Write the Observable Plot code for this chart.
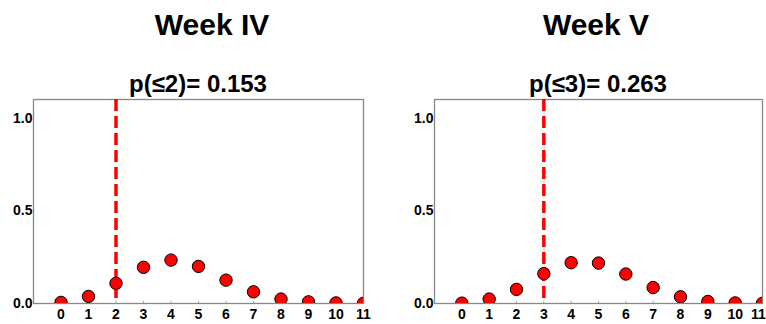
<!DOCTYPE html>
<html>
<head>
<meta charset="utf-8">
<script src="https://cdn.jsdelivr.net/npm/d3@7"></script>
<script src="https://cdn.jsdelivr.net/npm/@observablehq/plot@0.6"></script>
<style>
  html, body { margin: 0; padding: 0; background: #fff; }
  #wrap { position: relative; width: 766px; height: 324px; overflow: hidden; font-family: "Liberation Sans", Arial, sans-serif; }
  .panel { position: absolute; top: 0; overflow: visible; }
  .panel text { font-size: 14px; font-weight: bold; fill: #000; font-family: "Liberation Sans", Arial, sans-serif; }
  .title { position: absolute; font-weight: bold; line-height: 1; white-space: nowrap; transform: translateX(-50%); color: #000; }
  .t1 { font-size: 30px; top: 10px; }
  .t2 { font-size: 24px; top: 72px; }
</style>
</head>
<body>
<div id="wrap"></div>
<script>
// ---- data ----
const counts = [0, 1, 2, 3, 4, 5, 6, 7, 8, 9, 10, 11];
const weekIV = [0.006, 0.038, 0.109, 0.195, 0.234, 0.200, 0.126, 0.063, 0.024, 0.009, 0.003, 0.001];
const weekV  = [0.002, 0.024, 0.076, 0.161, 0.220, 0.218, 0.159, 0.086, 0.036, 0.011, 0.003, 0.001];
const titles = ["Week IV", "Week V"];
const subtitles = ["p(\u22642)= 0.153", "p(\u22643)= 0.263"];
const cutoffs = [2, 3];
const yTicks = [0, 0.5, 1.0];

const panels = [
  {values: weekIV, title: titles[0], sub: subtitles[0], cut: cutoffs[0], left: 0, ml: 33, mr: 20, tx: 212, sx: 198, lastDx: 0},
  {values: weekV, title: titles[1], sub: subtitles[1], cut: cutoffs[1], left: 383, ml: 51, mr: 4, tx: 596, sx: 598, lastDx: -4}
];

const wrap = document.getElementById("wrap");
const innerTicks = counts.slice(0, -1);
const lastTick = counts.slice(-1);

for (const p of panels) {
  const data = counts.map((c, i) => ({x: c, y: p.values[i]}));
  const chart = Plot.plot({
    width: 383,
    height: 324,
    marginTop: 99,
    marginBottom: 21,
    marginLeft: p.ml,
    marginRight: p.mr,
    style: {fontFamily: "'Liberation Sans', Arial, sans-serif", fontSize: "14px", fontWeight: "bold", color: "#000", background: "transparent"},
    x: {domain: [-1, 11], ticks: counts, tickFormat: d => String(d)},
    y: {domain: [0, 1.1], ticks: yTicks, tickFormat: d3.format(".1f")},
    marks: [
      Plot.axisX({ticks: innerTicks, tickSize: 0, tickPadding: 6, tickFormat: d => String(d), label: null, fontSize: 14, fontWeight: "bold", fill: "#000"}),
      Plot.axisX({ticks: lastTick, tickSize: 0, tickPadding: 6, dx: p.lastDx, tickFormat: d => String(d), label: null, fontSize: 14, fontWeight: "bold", fill: "#000"}),
      Plot.axisY({ticks: yTicks, tickSize: 0, tickPadding: 1, tickFormat: d3.format(".1f"), label: null, fontSize: 14, fontWeight: "bold", fill: "#000"}),
      Plot.ruleX(counts, {x: d => d, y1: 0, y2: 0.012, stroke: "#aaa", strokeWidth: 1}),
      Plot.frame({stroke: "#888", strokeWidth: 1.3}),
      Plot.ruleX([p.cut], {stroke: "#ff0000", strokeWidth: 3.5, strokeDasharray: "12,5"}),
      Plot.dot(data, {x: "x", y: "y", r: 6.2, fill: "#ff0000", stroke: "#000", strokeWidth: 1, clip: true})
    ]
  });
  chart.classList.add("panel");
  chart.style.left = p.left + "px";
  wrap.appendChild(chart);

  const t = document.createElement("div");
  t.className = "title t1";
  t.style.left = p.tx + "px";
  t.textContent = p.title;
  wrap.appendChild(t);

  const s = document.createElement("div");
  s.className = "title t2";
  s.style.left = p.sx + "px";
  s.textContent = p.sub;
  wrap.appendChild(s);
}
</script>
</body>
</html>
